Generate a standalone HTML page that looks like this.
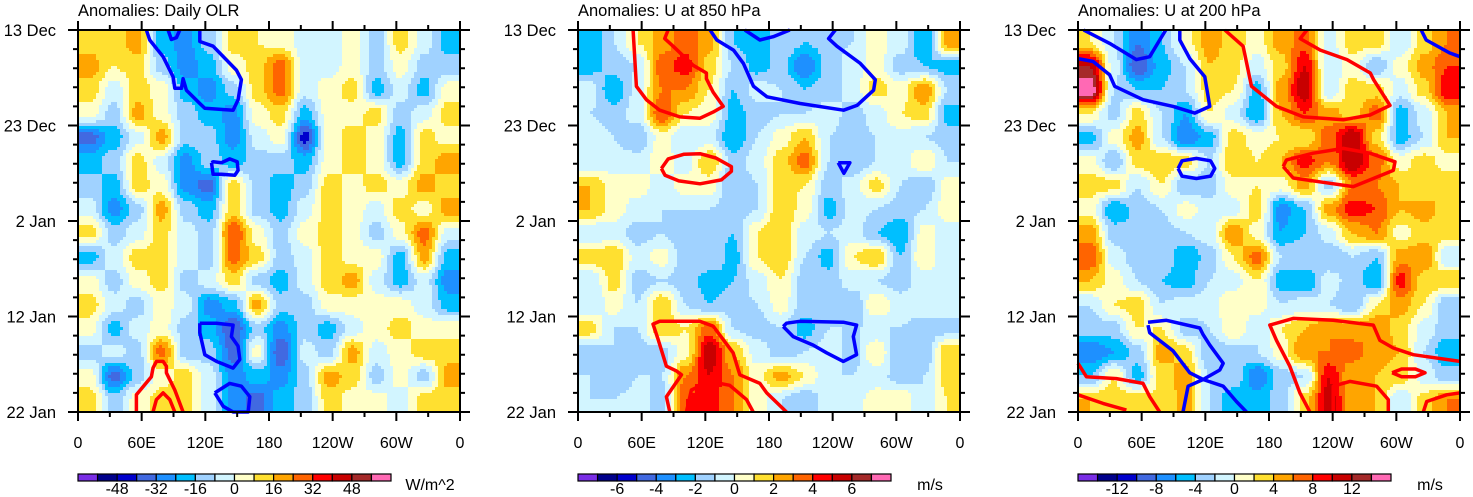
<!DOCTYPE html>
<html><head><meta charset="utf-8">
<style>
html,body{margin:0;padding:0;background:#fff;}
svg{display:block;font-family:"Liberation Sans",sans-serif;}
</style></head>
<body>
<svg id="fig" width="1473" height="497" viewBox="0 0 1473 497" xmlns="http://www.w3.org/2000/svg"></svg>
<script>
// ---------- data ----------
const colors = ["#7a2ee6","#00008b","#0000cd","#4169e1","#1e90ff","#00bfff","#a0d2ff","#d2f5ff","#ffffc8","#ffe030","#ffa500","#ff6400","#ff0000","#c80000","#a52a2a","#ff69b4"];
const olrLevels = [-56,-48,-40,-32,-24,-16,-8,0,8,16,24,32,40,48,56];
const u850Levels = [-7,-6,-5,-4,-3,-2,-1,0,1,2,3,4,5,6,7];
const u200Levels = [-14,-12,-10,-8,-6,-4,-2,0,2,4,6,8,10,12,14];
const olrTickLabels = ["-48","-32","-16","0","16","32","48"];
const u850TickLabels = ["-6","-4","-2","0","2","4","6"];
const u200TickLabels = ["-12","-8","-4","0","4","8","12"];
const lonTickLabels = ["0","60E","120E","180","120W","60W","0"];
const dayTickLabels = ["13 Dec","23 Dec","2 Jan","12 Jan","22 Jan"];

const olrValues = [
[12,12,20,-20,-28,-12,12,8,4,-4,-4,4,-12,12,-4,-20],
[20,8,12,-12,-28,-20,4,12,28,-4,-4,4,-12,4,-12,-12],
[12,-4,12,4,-20,-28,-12,12,28,-4,4,12,-20,-4,-20,4],
[4,-12,20,4,-12,-20,-28,4,12,-20,4,4,12,-12,-4,12],
[-36,-20,-4,20,-12,-12,-28,-4,4,-44,4,12,4,-20,12,4],
[-20,-12,12,-4,-28,-12,-20,-12,-12,-20,4,12,4,-20,12,20],
[-12,-20,12,4,-28,-36,12,-12,-20,-12,12,4,12,4,20,12],
[-4,-28,-12,20,-12,-20,12,-12,-20,-4,12,4,-4,12,4,20],
[12,-12,-4,12,-4,-12,32,4,-12,4,12,4,-12,4,28,-4],
[-20,-4,12,12,-4,-12,28,12,-12,-4,12,4,4,-20,20,-20],
[4,-12,4,12,-12,-4,12,-12,-20,-4,12,20,-4,-20,-4,-28],
[12,-4,-12,4,-4,-28,-20,20,-12,-12,4,4,4,4,-4,-20],
[4,-20,-4,4,-12,-20,-40,-12,-28,-12,-20,-4,4,12,4,4],
[-12,-4,-12,28,-12,-12,-36,4,-40,-4,-12,20,-4,4,12,12],
[4,-36,-12,4,12,-4,-28,-20,-28,-12,20,12,-12,4,-12,20],
[12,-12,4,12,12,-4,-28,-36,-20,-12,12,4,4,-4,12,12]];

const u850Values = [
[-3,-1,1,2.5,3.5,2.5,-2,-3,-1,-2,-1.5,-1,0.5,-0.5,-3,2.5],
[-2.5,-1.5,-1,3.5,4.5,1.5,-1,-2.5,-1.5,-4,-1.5,-0.5,0.5,-1.5,-2,-2.5],
[-0.5,-3,-0.5,3,3,1,-2,-0.5,-1,-2,-1.5,-0.5,1.5,0.5,3,-1],
[-1,-1.5,-0.5,4,1,0.5,-2.5,-1.5,-1,-1,-0.5,-1.5,-0.5,1,1.5,-2.5],
[-0.5,-1,-2,0.5,-1,-0.5,-3,-1,0.5,2,-1,-1.5,-1,-0.5,-1,-1.5],
[-1,-0.5,-0.5,0.5,-0.5,2,-1.5,-0.5,1.5,3.5,-1,-2,-1,-0.5,1,-1],
[2,0.5,0.5,-0.5,0.5,0.5,-2,-1,1.5,1,-1.5,-0.5,1.5,-1,-2,0.5],
[2,0.5,-0.5,-1,-1,-1,-1.5,-1,2,0.5,-2.5,-0.5,-1,-1.5,-1,0.5],
[-1,-0.5,-1.5,-1,-2,-1.5,-2,1,2,-0.5,-1,-0.5,-2,-3,0.5,-0.5],
[1.5,2,-0.5,0.5,-1.5,-1,-2.5,1,2,-1,-2.5,1,2,-2,1,-1],
[-1,1.5,-1.5,-1,-1.5,-2.5,-2,-0.5,1,-1.5,-1.5,-0.5,-1,-1.5,-0.5,-1],
[-1,0.5,-1,2,-1,-2,-1.5,-1,0.5,-1.5,-1.5,-2,1,-0.5,-0.5,-0.5],
[1.5,-1,-1,2,1,3.5,-1,-1.5,-1,-2.5,-1,-1,-1,-1,-1.5,-1.5],
[-1.5,-1,-1.5,-1.5,0.5,6,2,-0.5,-1.5,-1,-0.5,-1.5,1,-2,-2,2],
[-1,-2,-1,-1,3,5,3,0.5,2.5,1,-1,-1,-0.5,-1.5,-1,1.5],
[-1,-1,-0.5,-1.5,4,4.5,3,0.5,-1,-2,-0.5,-0.5,0.5,1,-1,1]];

const u200Values = [
[2,-2,-8,-4,1,5,3,1,5,7,-1,3,3,-2,3,6],
[12,-1,-10,-5,-2,4,3,-1,3,10,-2,1,-4,1,5,8],
[16,-2,-4,-4,-2,3,2,-5,5,12,-2,3,3,-1,3,10],
[2,-3,3,-2,-6,2,-1,-6,4,8,5,3,7,-5,-1,4],
[-5,1,5,-2,-8,-5,3,1,2,2,7,12,3,-5,-2,4],
[1,-4,3,4,3,-2,4,2,4,9,6,12,7,1,3,1],
[3,3,-2,2,-4,-3,1,2,1,5,-3,6,6,4,2,4],
[1,-6,-3,-2,1,-1,-1,3,-7,-4,5,9,8,4,5,3],
[5,-3,-4,-3,-2,-1,6,1,-6,-4,-1,4,6,1,3,3],
[8,-1,-3,-2,-6,-3,2,7,-2,-2,-4,-2,-4,5,6,-2],
[4,1,-2,-4,-5,-2,-1,2,-5,-6,-1,-3,-6,9,3,4],
[-2,2,3,-2,-1,-1,2,1,-2,-1,-2,-4,2,5,2,-4],
[-3,-3,2,2,-3,-2,2,-2,2,4,6,5,6,3,-1,-3],
[-8,-6,-3,5,3,-4,-3,-2,1,6,6,7,5,4,-2,-6],
[-4,2,-5,3,5,-2,-2,-8,-3,-2,10,4,4,3,-1,-3],
[4,3,4,2,5,-2,-6,-5,-3,3,11,5,4,-2,3,6]];

// contour overlays: [lon, day] pairs
const olrBlue = [
 [[64.5,0],[67.6,1.05],[80.2,2.8],[89.6,4.9],[91.2,6.1],[97.5,6.1],[99,5.1],[102.2,6.3],[114.8,7.7],[119.5,8.2],[146.2,8.4],[150.9,7.3],[154,5.2],[149.3,4.2],[127.3,1.7],[114.8,1.2],[114.8,0]],
 [[84.9,0],[88,1.0],[92.7,0.8],[95.9,0]],
 [[125.8,13.9],[127.3,15.1],[135.2,15.1],[147.8,15.2],[150.9,14.7],[150,13.8],[143,13.5],[135.2,13.9],[127.3,13.8],[125.8,13.9]],
 [[114.8,30.7],[114.8,31.7],[119.5,34.0],[130.5,34.7],[146.2,35.4],[152.5,34.5],[150.9,33.1],[144.6,32.1],[146.2,30.9],[130.5,30.7],[114.8,30.7]],
 [[128.9,38.0],[136.8,39.4],[146.2,40],[160.4,40],[161.9,38.4],[154,37.3],[143,37.0],[128.9,38.0]]];
const olrRed = [
 [[55,40],[55,38.2],[69.2,36.3],[70.7,35.4],[73.9,34.7],[80.2,34.7],[83.3,35.2],[83.3,35.9],[91.2,37.7],[99,40]],
 [[70.7,40],[73.9,38.7],[80.2,38.0],[86.5,38.7],[91.2,40]]];
const u850Blue = [
 [[124.5,0],[130.8,1.05],[146.5,2.1],[155.9,3.5],[165.4,5.9],[178,7.0],[209.4,7.7],[250.3,8.4],[262.9,7.9],[278.6,6.3],[280.2,5.2],[266,3.5],[244,1.7],[236.2,0.9],[242.5,0]],
 [[157.2,0],[171.4,1.05],[184,0.7],[199.6,0]],
 [[245.2,13.9],[256.2,13.9],[250.6,15.0],[245.2,13.9]],
 [[193.4,31.05],[202.8,32.1],[221.7,33.0],[234.3,33.8],[250,34.7],[262.6,34.0],[259.4,32.1],[262.6,30.9],[250,30.6],[209.1,30.5],[196.5,30.7],[193.4,31.05]]];
const u850Red = [
 [[51.9,0],[55,5.9],[64.5,7.3],[77,8.4],[95.9,9.1],[114.8,9.25],[127.3,8.6],[136.8,8.0],[127.3,6.5],[121,5.1],[121,4.5],[108.5,3.7],[89.6,1.7],[81.7,0.9],[84.9,0]],
 [[78.6,14.5],[85,13.5],[100,13.0],[115,12.95],[130,13.4],[144.6,14.3],[144.6,14.8],[135,15.7],[115,16.1],[95,15.8],[82,15.2],[78.6,14.5]],
 [[86.5,40],[83.3,38.4],[97.5,36.1],[92.7,35.7],[83.3,35.2],[75.5,32.4],[70.7,30.8],[77,30.5],[95.9,30.5],[114.8,30.5],[127.3,31.0],[146.2,33.8],[152.5,36.1],[171.4,37.0],[177.8,38.0],[196.5,40]],
 [[102.2,40],[106.9,37.7],[124.2,36.8],[143,37.2],[158.8,38.7],[165.1,40]]];
const u200Blue = [
 [[5.3,0],[29.9,1.4],[55,3.1],[67.6,2.8],[77,1.05],[82.7,0]],
 [[0,3.0],[14.2,3.3],[29.9,4.7],[34.6,5.9],[61.3,7.3],[89.6,8.0],[110,8.7],[124.2,8.0],[121,5.9],[119.5,4.9],[105.4,3.0],[95.9,1.05],[95.9,0]],
 [[323.4,0],[328.1,1.05],[350.1,2.4],[360,2.8]],
 [[94.3,14.5],[98,13.7],[111.6,13.45],[125,13.7],[128.9,14.5],[125,15.3],[111.6,15.55],[98,15.3],[94.3,14.5]],
 [[66,30.9],[67.6,31.7],[89.6,33.6],[105.4,35.9],[117.9,36.6],[133.6,35.6],[136.8,34.9],[124.2,33.0],[117.9,31.9],[114.8,31.2],[83.3,30.4],[66,30.6]],
 [[99,40],[103.8,37.3],[117.9,36.6],[136.8,37.3],[149.3,38.9],[158.8,40]]];
const u200Red = [
 [[138.3,0],[155.6,1.7],[163.5,5.9],[187.1,8.0],[212.3,9.1],[250,9.4],[275.2,8.9],[294,7.9],[278.6,5.2],[275.5,4.5],[253.5,3.1],[228.3,2.1],[209.4,0.9],[215.7,0]],
 [[193.4,14.3],[202.8,15.5],[234.3,16.0],[259.4,16.4],[297.1,14.7],[298.7,13.8],[275.2,12.9],[250,12.4],[221.7,12.9],[196.5,13.6],[193.4,14.3]],
 [[360,34.7],[316,34.0],[297.1,33.3],[284.5,32.5],[278.3,30.9],[240.5,30.4],[202.8,30.2],[180.8,30.9],[187.1,32.5],[199.6,35.2],[209.1,38.0],[218.5,40]],
 [[240.5,40],[240.5,37.3],[256.2,36.8],[281.4,37.3],[292.4,38.7],[292.4,40]],
 [[296,35.9],[305,35.5],[318,35.5],[327,35.9],[318,36.3],[305,36.3],[296,35.9]],
 [[0,34.9],[7.9,36.3],[36.2,36.5],[61.3,37.0],[67.6,38.4],[77,40]],
 [[0,38.2],[23.6,39.1],[45.6,39.8]],
 [[325.4,40],[328.6,38.9],[347.5,38.2],[360,38.0]]];

// ---------- drawing ----------
const NS="http://www.w3.org/2000/svg";
const svg=document.getElementById('fig');
function mk(tag,attrs,parent){const e=document.createElementNS(NS,tag);for(const k in attrs)e.setAttribute(k,attrs[k]);(parent||svg).appendChild(e);return e;}

const panels=[
 {x0:78,title:"Anomalies: Daily OLR",vals:olrValues,levels:olrLevels,ticks:olrTickLabels,unit:"W/m^2",unitX:430,blue:olrBlue,red:olrRed,name:"olr"},
 {x0:578,title:"Anomalies: U at 850 hPa",vals:u850Values,levels:u850Levels,ticks:u850TickLabels,unit:"m/s",unitX:930,blue:u850Blue,red:u850Red,name:"u850"},
 {x0:1078,title:"Anomalies: U at 200 hPa",vals:u200Values,levels:u200Levels,ticks:u200TickLabels,unit:"m/s",unitX:1430,blue:u200Blue,red:u200Red,name:"u200"}];
const Y0=30,H=382,W=382;

function levelIndex(v,levels){let i=0;while(i<levels.length&&v>=levels[i])i++;return i;}

panels.forEach(p=>{
 const xs=lon=>p.x0+lon/360*W;
 const ys=day=>Y0+day/40*H;
 const g=mk('g',{});
 
 
 const t=mk('text',{x:p.x0,y:16,'font-size':16.5,fill:'#000'},g);t.textContent=p.title;
 
 // field
 const fg=mk('g',{'shape-rendering':'crispEdges'},g);
 
 
 const nr=p.vals.length,nc=p.vals[0].length,S=3;
 const NX=Math.ceil(W/S),NY=Math.ceil(H/S);
 function sample(fx,fy){
  let cx=fx-0.5,cy=fy-0.5;
  cx=Math.max(0,Math.min(nc-1,cx));cy=Math.max(0,Math.min(nr-1,cy));
  const i0=Math.floor(cx),j0=Math.floor(cy),i1=Math.min(nc-1,i0+1),j1=Math.min(nr-1,j0+1);
  let ax=cx-i0,ay=cy-j0;
  ax=ax*ax*(3-2*ax);ay=ay*ay*(3-2*ay);
  const v=p.vals;
  return (v[j0][i0]*(1-ax)+v[j0][i1]*ax)*(1-ay)+(v[j1][i0]*(1-ax)+v[j1][i1]*ax)*ay;
 }
 for(let j=0;j<NY;j++){
  const py=j*S, h=Math.min(S,H-py);
  let runStart=0,runCol=-1;
  for(let i=0;i<=NX;i++){
   let c=-1;
   if(i<NX){const v=sample((i*S+S/2)/W*nc,(py+S/2)/H*nr);c=levelIndex(v,p.levels);}
   if(c!==runCol){
    if(runCol>=0){const x=runStart*S;const w=Math.min(i*S,W)-x;
     mk('rect',{x:p.x0+x,y:Y0+py,width:w,height:h,fill:colors[runCol]},fg);}
    runStart=i;runCol=c;}
  }
 }
 // contours
 const drawLines=(arr,col,nm)=>arr.forEach(pts=>{
  const d=pts.map((q,k)=>(k?'L':'M')+xs(q[0]).toFixed(1)+','+ys(q[1]).toFixed(1)).join('');
  const pe=mk('path',{d:d,fill:'none',stroke:col,'stroke-width':3.5,'stroke-linejoin':'round'},g);
  
  
 });
 drawLines(p.blue,'#0000ff',p.name+'-negative-contour');
 drawLines(p.red,'#ff0000',p.name+'-positive-contour');
 // frame
 const fr=mk('rect',{x:p.x0,y:Y0,width:W,height:H,fill:'none',stroke:'#000','stroke-width':2},g);
 
 // ticks
 let td='';
 for(let d=0;d<=40;d+=2){const y=ys(d);const L=(d%10===0)?10:5;
  td+=`M${p.x0-L},${y}L${p.x0},${y}M${p.x0+W},${y}L${p.x0+W+L},${y}`;}
 for(let lon=0;lon<=360;lon+=30){const x=xs(lon);const L=(lon%60===0)?9:5;
  td+=`M${x},${Y0-L}L${x},${Y0}M${x},${Y0+H}L${x},${Y0+H+L}`;}
 mk('path',{d:td,stroke:'#000','stroke-width':2,fill:'none'},g);
 dayTickLabels.forEach((s,k)=>{const e=mk('text',{x:p.x0-22,y:ys(k*10)+6,'font-size':16.5,'text-anchor':'end'},g);e.textContent=s;
  });
 lonTickLabels.forEach((s,k)=>{const e=mk('text',{x:xs(k*60),y:448,'font-size':16,'text-anchor':'middle'},g);e.textContent=s;
  });
 // colorbar
 const cb=mk('g',{},g);
 
 const bx=p.x0,bw=313/16,by=474,bh=7;
 colors.forEach((c,k)=>{mk('rect',{x:bx+k*bw,y:by,width:bw,height:bh,fill:c,stroke:'#000','stroke-width':1.2},cb);});
 p.ticks.forEach((s,k)=>{const e=mk('text',{x:bx+(2+2*k)*bw,y:494,'font-size':16,'text-anchor':'middle'},cb);e.textContent=s;
  });
 const u=mk('text',{x:p.unitX,y:490,'font-size':16,'text-anchor':'middle'},cb);u.textContent=p.unit;
 
});
</script>
</body></html>
